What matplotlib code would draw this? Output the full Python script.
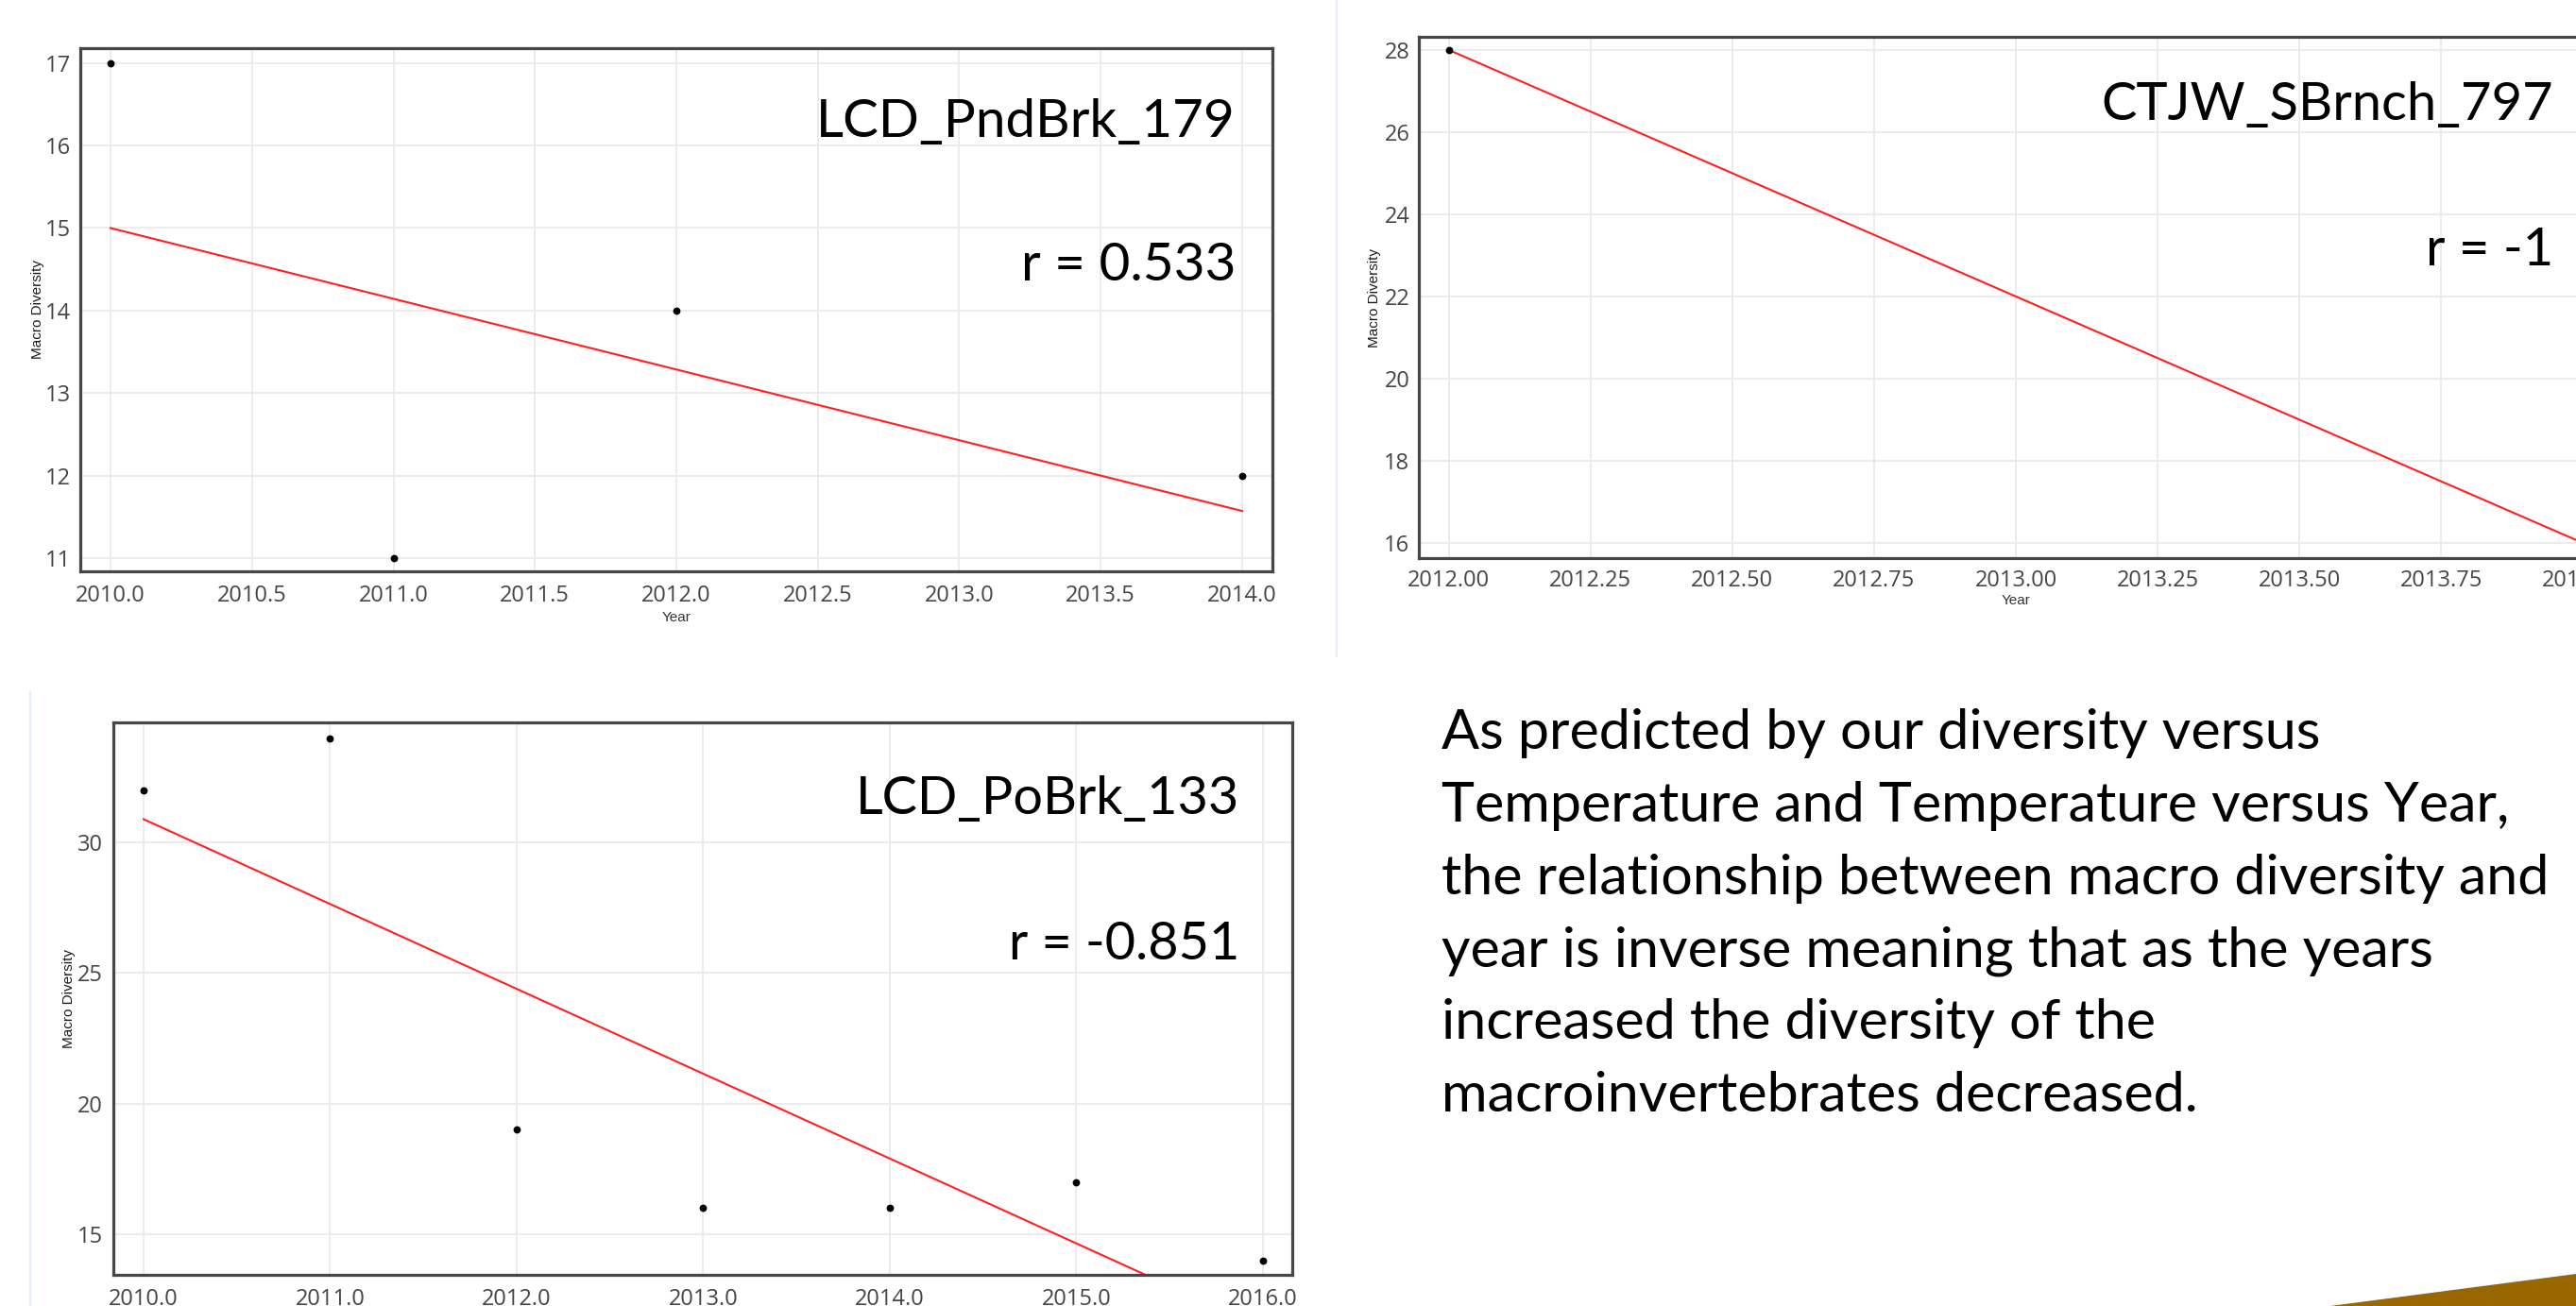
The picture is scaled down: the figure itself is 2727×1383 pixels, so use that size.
import numpy as np
import matplotlib
matplotlib.use("Agg")
import matplotlib.pyplot as plt
from matplotlib.lines import Line2D
from matplotlib.patches import Polygon

# ---------------- data ----------------
site1_name = "LCD_PndBrk_179"
site1_r = "r = 0.533"
site1_years = [2010, 2011, 2012, 2014]
site1_div = [17, 11, 14, 12]
site1_xticks = [2010.0, 2010.5, 2011.0, 2011.5, 2012.0, 2012.5, 2013.0, 2013.5, 2014.0]
site1_yticks = [11, 12, 13, 14, 15, 16, 17]

site2_name = "CTJW_SBrnch_797"
site2_r = "r = -1"
site2_years = [2012, 2014]
site2_div = [28, 16]
site2_xticks = [2012.00, 2012.25, 2012.50, 2012.75, 2013.00, 2013.25, 2013.50, 2013.75, 2014.00]
site2_yticks = [16, 18, 20, 22, 24, 26, 28]

site3_name = "LCD_PoBrk_133"
site3_r = "r = -0.851"
site3_years = [2010, 2011, 2012, 2013, 2014, 2015, 2016]
site3_div = [32, 34, 19, 16, 16, 17, 14]
site3_xticks = [2010.0, 2011.0, 2012.0, 2013.0, 2014.0, 2015.0, 2016.0]
site3_yticks = [15, 20, 25, 30]

paragraph_lines = [
    "As predicted by our diversity versus",
    "Temperature and Temperature versus Year,",
    "the relationship between macro diversity and",
    "year is inverse meaning that as the years",
    "increased the diversity of the",
    "macroinvertebrates decreased.",
]

# ---------------- figure ----------------
W, H = 2727, 1383
plt.rcParams['font.family'] = ['Open Sans', 'DejaVu Sans']
fig = plt.figure(figsize=(W / 100, H / 100), dpi=100)
fig.patch.set_facecolor('white')
renderer = fig.canvas.get_renderer()


def add_ax(x0, y0, x1, y1):
    return fig.add_axes([x0 / W, 1 - y1 / H, (x1 - x0) / W, (y1 - y0) / H])


def style(ax, xticks, yticks, xfmt, xlim, ylim, xpad, ypad):
    ax.set_xlim(*xlim)
    ax.set_ylim(*ylim)
    ax.set_xticks(xticks)
    ax.set_xticklabels([xfmt % v for v in xticks])
    ax.set_yticks(yticks)
    ax.set_yticklabels([str(v) for v in yticks])
    ax.grid(True, color='#ebebeb', lw=1.3, zorder=0)
    ax.set_axisbelow(True)
    for sp in ax.spines.values():
        sp.set_color('#474747')
        sp.set_linewidth(2.3)
    ax.tick_params(axis='both', length=0, labelsize=17, labelcolor='#454545')
    ax.tick_params(axis='x', pad=xpad)
    ax.tick_params(axis='y', pad=ypad)


def draw(ax, years, div, xr):
    slope, icpt = np.polyfit(years, div, 1)
    xs = np.array(xr, dtype=float)
    ax.plot(xs, slope * xs + icpt, color='#ff2020', lw=1.5, zorder=2)
    ax.plot(years, div, 'o', color='black', ms=4.6, zorder=3, clip_on=False)


def ylab(ax, xfrac):
    ax.set_ylabel('Macro Diversity', fontsize=11, family='Liberation Sans', color='#1a1a1a', va='center')
    ax.yaxis.set_label_coords(xfrac, 0.5)


def xlab(ax, yfrac):
    ax.set_xlabel('Year', fontsize=11, family='Liberation Sans', color='#333333', va='center')
    ax.xaxis.set_label_coords(0.5, yfrac)


# faint screenshot borders
fig.add_artist(Line2D([1415 / W, 1415 / W], [1, 1 - 695 / H], color='#e4edf8', lw=1.5,
                      transform=fig.transFigure))
fig.add_artist(Line2D([32 / W, 32 / W], [1 - 733 / H, 0], color='#e4edf8', lw=1.5,
                      transform=fig.transFigure))

# Plot 1
ax1 = add_ax(85, 51, 1347, 605)
style(ax1, site1_xticks, site1_yticks, '%.1f', (2009.893, 2014.107), (10.84, 17.18), 10, 7)
draw(ax1, site1_years, site1_div, [2010, 2014])
ylab(ax1, -0.0357)
xlab(ax1, -0.088)

# Plot 2
ax2 = add_ax(1502, 39, 2766, 591)
style(ax2, site2_xticks, site2_yticks, '%.2f', (2011.947, 2014.053), (15.63, 28.32), 9, 7)
draw(ax2, site2_years, site2_div, [2012, 2014])
ylab(ax2, -0.0372)
xlab(ax2, -0.0815)

# Plot 3
ax3 = add_ax(120, 765, 1368, 1350)
style(ax3, site3_xticks, site3_yticks, '%.1f', (2009.838, 2016.157), (13.44, 34.6), 10, 8)
draw(ax3, site3_years, site3_div, [2010, 2016])
ylab(ax3, -0.0377)


# ---------------- big annotations ----------------
def fit_size(s, target_w, family='Lato', size0=40):
    t = fig.text(0, 0, s, fontsize=size0, family=family)
    w = t.get_window_extent(renderer).width
    t.remove()
    return size0 * target_w / w


def put(x_right, y_base, s, size):
    fig.text(x_right / W, 1 - y_base / H, s, ha='right', va='baseline', fontsize=size,
             family='Lato', color='black')


s1 = fit_size(site1_name, 444)
put(1308, 145, site1_name, s1)
put(1308, 297, site1_r, s1)

s2 = fit_size(site2_name, 478)
put(2703, 127, site2_name, s2)
put(2703, 281, site2_r, s2)

s3 = fit_size(site3_name, 406)
put(1312, 862, site3_name, s3)
put(1312, 1016, site3_r, s3)

# ---------------- paragraph ----------------
ps = fit_size(paragraph_lines[2], 1173)
baselines = [793, 870, 947, 1024, 1100, 1177]
for line, yb in zip(paragraph_lines, baselines):
    fig.text(1526 / W, 1 - yb / H, line, ha='left', va='baseline', fontsize=ps,
             family='Lato', color='black')

# ---------------- decorative corner shape ----------------
fig.add_artist(Polygon([(2467 / W, 0), (1, 1 - 1349 / H), (1, 0)], closed=True,
                       facecolor='#996600', edgecolor='none', transform=fig.transFigure))

fig.savefig('out.png', dpi=100, facecolor='white')
